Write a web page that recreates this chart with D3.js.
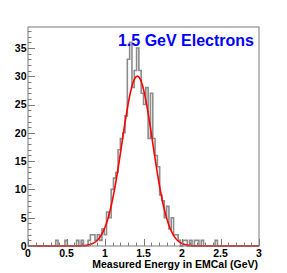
<!DOCTYPE html>
<html><head><meta charset="utf-8">
<script src="https://cdn.jsdelivr.net/npm/d3@7"></script>
<style>body{margin:0;background:#fff}svg{display:block}text{font-family:"Liberation Sans",Arial,sans-serif;font-weight:bold}</style>
</head><body>
<script>
// Histogram: 100 bins of 0.03 GeV from 0 to 3
const binLow = 0, binWidth = 0.03;
const counts = [
 0,0,0,0,0,0,0,0,0,0,  0,0,1,0,0,0,1,0,0,0,
 0,1,0,1,0,0,1,2,2,1,  2,1,3,2,6,5,10,12,13,17,
 19,20,23,33,36,28,31,35,31,27,  25,28,19,27,19,16,14,9,8,5,
 7,3,5,2,2,1,0,1,1,0,  1,0,1,1,0,1,0,0,0,0,
 0,1,0,0,0,0,0,0,0,0,  0,0,0,0,0,0,0,0,0,0
];
// Gaussian fit parameters
const fitAmp = 30, fitMean = 1.42, fitSigma = 0.2;
const xTicks = [0, 0.5, 1, 1.5, 2, 2.5, 3];
const yTicks = [0, 5, 10, 15, 20, 25, 30, 35];
const titleText = "1.5 GeV Electrons";
const xTitle = "Measured Energy in EMCal (GeV)";

const W = 287, H = 273;
const m = {l: 28, r: 259, t: 27, b: 246};
const svg = d3.select("body").append("svg").attr("width", W).attr("height", H);
const x = d3.scaleLinear().domain([0, 3]).range([m.l, m.r]);
const y = d3.scaleLinear().domain([0, 38.7]).range([m.b, m.t]);

// histogram step outline
const pts = [];
counts.forEach((c, i) => {
  const x0 = binLow + i * binWidth, x1 = x0 + binWidth;
  pts.push([x0, c], [x1, c]);
});
const step = d3.line().x(d => x(d[0])).y(d => y(d[1]));
svg.append("path").attr("d", step(pts)).attr("fill", "none")
  .attr("stroke", "#8c8c8c").attr("stroke-width", 1.6);

// fit curve
const fx = d3.range(0, 3.0001, 0.005);
const gauss = v => fitAmp * Math.exp(-((v - fitMean) ** 2) / (2 * fitSigma * fitSigma));
svg.append("path").attr("d", d3.line().x(d => x(d)).y(d => y(gauss(d)))(fx))
  .attr("fill", "none").attr("stroke", "#ff0000").attr("stroke-width", 1.6);

// frame
const frameCol = "#7a7a7a";
svg.append("rect").attr("x", m.l).attr("y", m.t).attr("width", m.r - m.l).attr("height", m.b - m.t)
  .attr("fill", "none").attr("stroke", frameCol).attr("stroke-width", 1);

// x axis ticks (inward)
const xMinor = d3.range(0, 3.0001, 0.1);
svg.append("g").selectAll("line").data(xMinor).join("line")
  .attr("x1", d => Math.round(x(d)) + 0.5).attr("x2", d => Math.round(x(d)) + 0.5)
  .attr("y1", m.b).attr("y2", (d, i) => m.b - (i % 5 === 0 ? 7 : 3.5))
  .attr("stroke", frameCol);
svg.append("g").selectAll("text").data(xTicks).join("text")
  .attr("x", d => x(d)).attr("y", 257).attr("text-anchor", "middle")
  .attr("font-size", 10.5).attr("fill", "#000").text(d => d);

// y axis ticks (inward)
const yMinor = d3.range(0, 39, 1);
svg.append("g").selectAll("line").data(yMinor).join("line")
  .attr("y1", d => Math.round(y(d)) + 0.5).attr("y2", d => Math.round(y(d)) + 0.5)
  .attr("x1", m.l).attr("x2", d => m.l + (d % 5 === 0 ? 7 : 3.5))
  .attr("stroke", frameCol);
svg.append("g").selectAll("text").data(yTicks).join("text")
  .attr("x", 26.5).attr("y", d => y(d) + 3.8).attr("text-anchor", "end")
  .attr("font-size", 10.5).attr("fill", "#000").text(d => d);

// titles
svg.append("text").attr("x", 258).attr("y", 268).attr("text-anchor", "end")
  .attr("font-size", 10.5).attr("fill", "#000").text(xTitle);
svg.append("text").attr("x", 254).attr("y", 46).attr("text-anchor", "end")
  .attr("font-size", 16).attr("fill", "#0000ff").text(titleText);
</script>
</body></html>
